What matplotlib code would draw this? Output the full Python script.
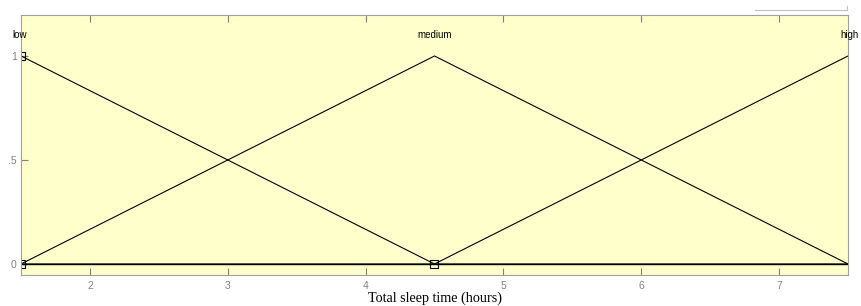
import matplotlib
matplotlib.use("Agg")
import matplotlib.pyplot as plt

x_range = [1.5, 7.5]
mf_names = ["low", "medium", "high"]
mf_x = [[1.5, 4.5, 7.5], [1.5, 4.5, 7.5], [1.5, 4.5, 7.5]]
mf_y = [[1, 0, 0], [0, 1, 0], [0, 0, 1]]
label_x = [1.5, 4.5, 7.5]
marker_x = [1.5, 1.5, 4.5]
marker_y = [1, 0, 0]
xticks = [2, 3, 4, 5, 6, 7]
yticks = [0, 0.5, 1]
ytick_labels = ["0", ".5", "1"]

fig = plt.figure(figsize=(8.61, 3.06), dpi=100)
ax = fig.add_axes([21/861, 31/306, 827/861, 260/306])
ax.set_facecolor("#FFFFCC")
for xs, ys in zip(mf_x, mf_y):
    ax.plot(xs, ys, color="black", lw=0.8)
ax.axhline(0, color="black", lw=1.0)
ax.plot(marker_x, marker_y, ls="none", marker="s", ms=6, mfc="none", mec="black", mew=0.8)
for name, lx in zip(mf_names, label_x):
    ha = "left" if lx == x_range[0] else ("right" if lx == x_range[1] else "center")
    dx = -0.06 if ha == "left" else (0.08 if ha == "right" else 0)
    ax.text(lx + dx, 1.1, name, ha=ha, va="center", fontsize=7, family="Liberation Sans")
ax.set_xlim(*x_range)
ax.set_ylim(-0.053, 1.197)
ax.set_xticks(xticks)
ax.set_xticklabels([str(t) for t in xticks])
ax.set_yticks(yticks)
ax.set_yticklabels(ytick_labels)
ax.tick_params(direction="in", top=True, right=False, colors="#808080", labelsize=7.5, length=5, width=0.8,
               labelcolor="#808080")
ax.tick_params(axis="y", pad=3)
ax.tick_params(axis="x", pad=4)
for lbl in ax.get_xticklabels() + ax.get_yticklabels():
    lbl.set_family("Liberation Sans")
for s in ax.spines.values():
    s.set_color("#A0A0A0")
ax.set_xlabel("Total sleep time (hours)", family="Liberation Serif", fontsize=10.2, labelpad=1)
fig.add_artist(plt.Line2D([755/861, 847/861], [296/306, 296/306], color="#C0C0C0", lw=0.8))
fig.add_artist(plt.Line2D([847/861, 847/861], [296/306, 300/306], color="#C0C0C0", lw=0.8))
fig.savefig("out.png", dpi=100)
